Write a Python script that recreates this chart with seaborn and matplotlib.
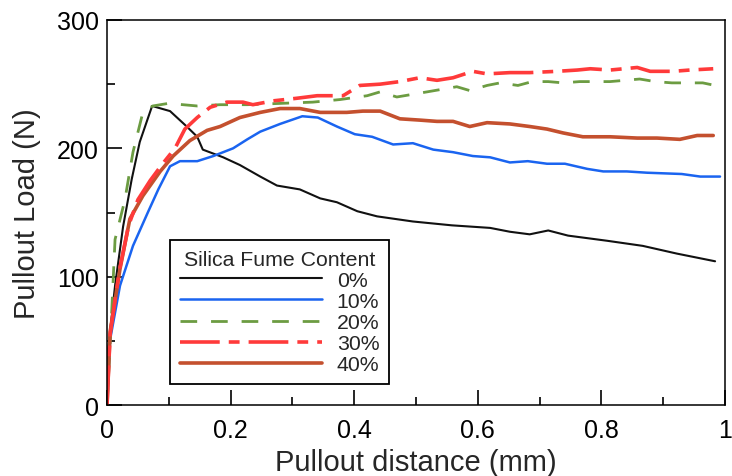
import numpy as np
import pandas as pd
import seaborn as sns
import matplotlib.pyplot as plt
from matplotlib.ticker import MultipleLocator

# data
labels = ['0%', '10%', '20%', '30%', '40%']

x0 = [0, 0.002, 0.013, 0.026, 0.040, 0.053, 0.073, 0.102, 0.129, 0.146, 0.155, 0.188, 0.215,
      0.248, 0.275, 0.312, 0.345, 0.372, 0.405, 0.437, 0.495, 0.558, 0.620, 0.652, 0.684,
      0.714, 0.746, 0.809, 0.867, 0.922, 0.984]
y0 = [0, 44, 93, 139, 176, 205, 233, 229, 217, 209, 199, 193, 187, 178, 171, 168, 161, 158,
      151, 147, 143, 140, 138, 135, 133, 136, 132, 128, 124, 118, 112]

x1 = [0, 0.005, 0.021, 0.042, 0.066, 0.083, 0.102, 0.118, 0.146, 0.172, 0.204, 0.227, 0.248,
      0.280, 0.316, 0.341, 0.372, 0.401, 0.429, 0.463, 0.495, 0.528, 0.560, 0.592, 0.620,
      0.652, 0.681, 0.712, 0.741, 0.777, 0.803, 0.841, 0.874, 0.930, 0.960, 0.992]
y1 = [0, 51, 93, 124, 150, 168, 186, 190, 190, 194, 200, 207, 213, 219, 225, 224, 217, 211,
      209, 203, 204, 199, 197, 194, 193, 189, 190, 188, 188, 184, 182, 182, 181, 180, 178, 178]

x2 = [0, 0.008, 0.013, 0.029, 0.042, 0.058, 0.074, 0.099, 0.123, 0.146, 0.183, 0.227, 0.280,
      0.333, 0.377, 0.421, 0.442, 0.469, 0.518, 0.566, 0.587, 0.615, 0.636, 0.665, 0.688,
      0.714, 0.738, 0.765, 0.814, 0.862, 0.887, 0.914, 0.964, 0.984]
y2 = [0, 77, 129, 160, 197, 228, 233, 235, 234, 233, 234, 234, 235, 236, 238, 241, 244, 240,
      244, 248, 245, 249, 251, 249, 252, 252, 251, 252, 252, 254, 252, 251, 251, 249]

x3 = [0, 0.005, 0.02, 0.035, 0.05, 0.07, 0.09, 0.11, 0.126, 0.146, 0.167, 0.194, 0.22, 0.236,
      0.269, 0.307, 0.340, 0.382, 0.409, 0.442, 0.474, 0.506, 0.534, 0.560, 0.592, 0.615,
      0.652, 0.684, 0.728, 0.761, 0.782, 0.814, 0.858, 0.879, 0.895, 0.916, 0.943, 0.981]
y3 = [0, 55, 105, 140, 160, 175, 188, 200, 215, 224, 232, 236, 236, 234, 237, 239, 241, 241,
      249, 250, 252, 255, 253, 255, 260, 258, 259, 259, 260, 261, 262, 261, 263, 260, 260,
      260, 261, 262]

x4 = [0, 0.005, 0.021, 0.037, 0.058, 0.086, 0.107, 0.134, 0.162, 0.183, 0.215, 0.248, 0.280,
      0.312, 0.345, 0.388, 0.414, 0.442, 0.474, 0.506, 0.534, 0.560, 0.587, 0.615, 0.652,
      0.684, 0.712, 0.738, 0.770, 0.814, 0.858, 0.890, 0.927, 0.955, 0.981]
y4 = [0, 57, 106, 145, 163, 182, 194, 206, 214, 217, 224, 228, 231, 231, 228, 228, 229, 229,
      223, 222, 221, 221, 217, 220, 219, 217, 215, 212, 209, 209, 208, 208, 207, 210, 210]

xticks = [0, 0.2, 0.4, 0.6, 0.8, 1.0]
xticklabels = ['0', '0.2', '0.4', '0.6', '0.8', '1']
yticks = [0, 100, 200, 300]

series = [(x0, y0), (x1, y1), (x2, y2), (x3, y3), (x4, y4)]
colors = ['#111111', '#1a64f0', '#6c9c42', '#ff3a3a', '#c4502e']
widths = [1.5, 1.8, 2.0, 2.6, 2.6]
styles = ['-', '-', (0, (6, 5)), (0, (11, 2.5, 3, 2.5)), '-']

sns.set_style('ticks')
plt.rcParams['font.family'] = ['Liberation Sans', 'DejaVu Sans']

fig = plt.figure(figsize=(7.32, 4.77), dpi=100)
ax = fig.add_axes([0.1462, 0.1488, 0.8442, 0.8072])

# draw 30% after 40% so the red dashes sit over the brown curve
order = [0, 1, 2, 4, 3]
for i in order:
    xs, ys = series[i]
    df = pd.DataFrame({'x': xs, 'y': ys})
    sns.lineplot(data=df, x='x', y='y', ax=ax, color=colors[i], linewidth=widths[i],
                 linestyle=styles[i], estimator=None, sort=False, label=labels[i])

handles, labs = ax.get_legend_handles_labels()
hmap = dict(zip(labs, handles))
leg = ax.legend([hmap[l] for l in labels], labels, title='Silica Fume Content',
                loc='lower left', bbox_to_anchor=(0.102, 0.055), borderaxespad=0,
                fontsize=15.3, title_fontsize=15.3, frameon=True, fancybox=False,
                edgecolor='black', handlelength=6.7, handletextpad=0.7,
                labelspacing=0.1, borderpad=0.45)
leg.get_frame().set_linewidth(1.3)
leg.get_frame().set_alpha(1)

ax.set_xlim(0, 1)
ax.set_ylim(0, 300)
ax.set_xticks(xticks)
ax.set_xticklabels(xticklabels)
ax.set_yticks(yticks)
ax.xaxis.set_minor_locator(MultipleLocator(0.1))
ax.yaxis.set_minor_locator(MultipleLocator(50))
ax.tick_params(which='both', direction='in', width=1.2, top=False, right=False,
               labelsize=18, colors='black')
ax.tick_params(which='major', length=11)
ax.tick_params(which='minor', length=5.5)
ax.tick_params(axis='x', pad=9)
ax.tick_params(axis='y', pad=6)

for s in ax.spines.values():
    s.set_visible(True)
    s.set_linewidth(1.1)
    s.set_color('black')

ax.set_xlabel('Pullout distance (mm)', fontsize=21, labelpad=5)
ax.set_ylabel('Pullout Load (N)', fontsize=21, labelpad=11)

plt.savefig('out.png', dpi=100)
